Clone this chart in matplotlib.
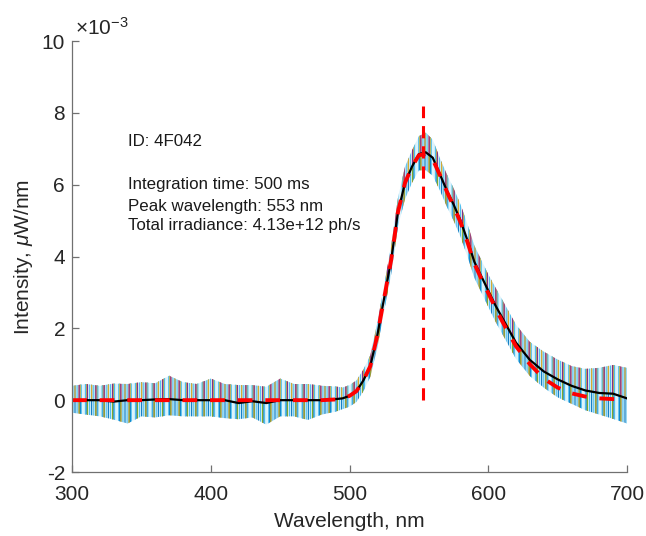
import matplotlib
matplotlib.use("Agg")
import matplotlib.pyplot as plt
import numpy as np

# wavelength grid (nm) and readings from the reference, intensity in units of 1e-3 uW/nm
wavelength = [300, 310, 320, 330, 340, 350, 360, 370, 380, 390,
              400, 410, 420, 430, 440, 450, 460, 470, 480, 490,
              495, 500, 505, 510, 515, 520, 525, 530, 535, 540,
              545, 550, 555, 560, 565, 570, 575, 580, 585, 590,
              595, 600, 605, 610, 615, 620, 630, 640, 650, 660,
              670, 680, 690, 700]
mean_spectrum = [0.0, 0.0, 0.0, -0.04, 0.0, 0.0, 0.02, 0.03, 0.0, 0.0,
                 0.0, 0.0, -0.08, -0.03, -0.08, 0.0, 0.0, 0.0, 0.0, 0.03,
                 0.05, 0.12, 0.25, 0.55, 0.95, 1.8, 2.85, 3.9, 5.25, 6.05,
                 6.5, 6.85, 6.9, 6.75, 6.3, 5.85, 5.45, 5.0, 4.45, 3.85,
                 3.45, 3.05, 2.65, 2.3, 1.95, 1.6, 1.12, 0.8, 0.58, 0.4,
                 0.27, 0.2, 0.18, 0.05]
fit_spectrum = [0.0, 0.0, 0.0, 0.0, 0.0, 0.0, 0.0, 0.0, 0.0, 0.0,
                0.0, 0.0, 0.0, 0.0, 0.0, 0.0, 0.0, 0.0, 0.0, 0.02,
                0.05, 0.12, 0.25, 0.55, 0.95, 1.8, 2.85, 3.9, 5.25, 6.05,
                6.5, 6.82, 6.85, 6.7, 6.28, 5.82, 5.4, 4.95, 4.4, 3.8,
                3.38, 2.98, 2.58, 2.2, 1.85, 1.5, 1.0, 0.6, 0.35, 0.19,
                0.1, 0.05, 0.03, 0.02]
# spread of the repeated scans around the mean (upper / lower)
scan_upper = [0.4, 0.45, 0.4, 0.5, 0.45, 0.5, 0.45, 0.65, 0.5, 0.45,
              0.6, 0.45, 0.5, 0.45, 0.45, 0.6, 0.45, 0.45, 0.4, 0.35,
              0.3, 0.3, 0.3, 0.3, 0.3, 0.35, 0.35, 0.4, 0.4, 0.45,
              0.45, 0.5, 0.55, 0.5, 0.45, 0.45, 0.45, 0.45, 0.45, 0.45,
              0.45, 0.45, 0.5, 0.5, 0.5, 0.5, 0.5, 0.55, 0.55, 0.55,
              0.6, 0.7, 0.8, 0.85]
scan_lower = [0.35, 0.4, 0.45, 0.5, 0.65, 0.45, 0.5, 0.45, 0.45, 0.45,
              0.45, 0.5, 0.45, 0.45, 0.6, 0.45, 0.45, 0.55, 0.4, 0.35,
              0.3, 0.3, 0.3, 0.3, 0.3, 0.35, 0.35, 0.4, 0.4, 0.45,
              0.45, 0.45, 0.5, 0.5, 0.45, 0.45, 0.45, 0.45, 0.45, 0.45,
              0.45, 0.45, 0.45, 0.45, 0.45, 0.45, 0.45, 0.45, 0.5, 0.5,
              0.55, 0.6, 0.7, 0.7]
peak_wavelength = 553
peak_marker_top = 8.2

info_lines = ["ID: 4F042", "Integration time: 500 ms",
              "Peak wavelength: 553 nm", "Total irradiance: 4.13e+12 ph/s"]
info_y = [7.2, 6.0, 5.4, 4.85]

# matlab line colours for the individual scans, drawn as vertical hatching
# part: which side of the mean each colour covers
SCAN_STYLE = [
    ("#0072BD", "|||", "both"),
    ("#D95319", "||", "both"),
    ("#EDB120", "|||", "upper"),
    ("#7E2F8E", "||", "upper"),
    ("#77AC30", "||", "lower"),
    ("#4DBEEE", "||||", "both"),
]

plt.rcParams.update({
    "font.family": ["Liberation Sans", "DejaVu Sans"],
    "mathtext.fontset": "custom",
    "mathtext.rm": "Liberation Sans",
    "mathtext.it": "Liberation Sans:italic",
    "hatch.linewidth": 0.8,
    "axes.unicode_minus": False,
})

wl = np.array(wavelength, dtype=float)
mean = np.array(mean_spectrum)
hi = mean + np.array(scan_upper)
lo = mean - np.array(scan_lower)

fig = plt.figure(figsize=(6.46, 5.36), dpi=100)
ax = fig.add_axes([0.1115, 0.1194, 0.8591, 0.8041])

ax.fill_between(wl, lo, hi, facecolor="#4DBEEE", alpha=0.18, linewidth=0)
for color, hatch, part in SCAN_STYLE:
    low = mean if part == "upper" else lo
    high = mean if part == "lower" else hi
    ax.fill_between(wl, low, high, facecolor="none", edgecolor=color,
                    hatch=hatch, linewidth=0)

ax.plot(wl, mean, color="black", linewidth=1.6)
ax.plot(wl, fit_spectrum, color="#FF0000", linewidth=2.8,
        linestyle=(0, (3.8, 3.3)))
ax.plot([peak_wavelength, peak_wavelength], [0, peak_marker_top],
        color="#FF0000", linewidth=2.2, linestyle=(0, (4.0, 2.6)))

for line, y in zip(info_lines, info_y):
    ax.text(340.5, y, line, fontsize=12.2, ha="left", va="center",
            color="#1a1a1a")

ax.set_xlim(300, 700)
ax.set_ylim(-2, 10)
ax.set_xticks([300, 400, 500, 600, 700])
ax.set_yticks([-2, 0, 2, 4, 6, 8, 10])
ax.set_xlabel("Wavelength, nm", fontsize=15, color="#262626", labelpad=6)
ax.set_ylabel(r"Intensity, $\mathit{\mu}$W/nm", fontsize=15,
              color="#262626", labelpad=5)
ax.text(0.005, 1.005, r"$\times10^{-3}$", transform=ax.transAxes,
        fontsize=15, ha="left", va="bottom", color="#262626")

for side in ("top", "right"):
    ax.spines[side].set_visible(False)
for side in ("left", "bottom"):
    ax.spines[side].set_color("#707070")
    ax.spines[side].set_linewidth(0.9)
ax.tick_params(direction="in", length=5, width=0.9, color="#707070",
               labelsize=15, labelcolor="#262626")
ax.tick_params(axis="x", pad=9)
ax.tick_params(axis="y", pad=5)

fig.savefig("out.png", dpi=100)
